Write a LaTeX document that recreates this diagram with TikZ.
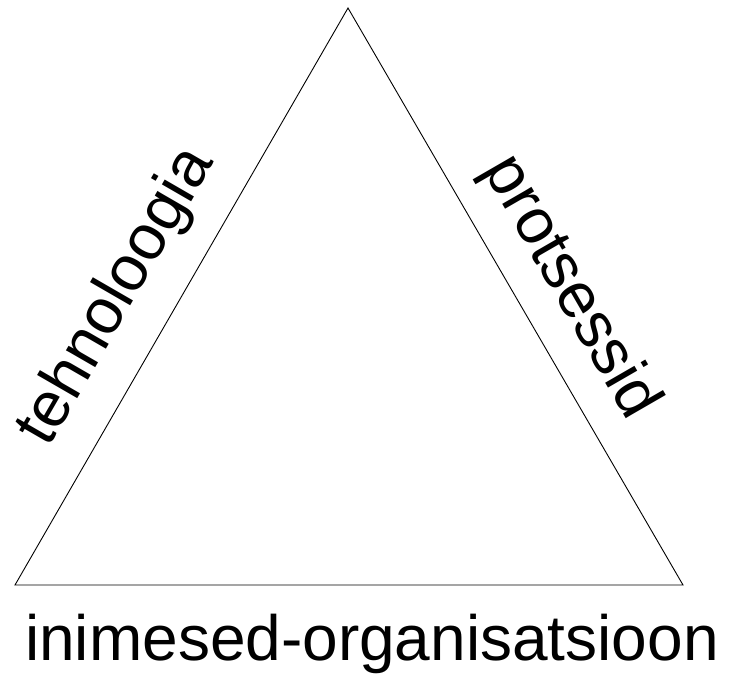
\documentclass[tikz,border=0pt]{standalone}
\usepackage{fontspec}
\setmainfont{Liberation Sans}
\begin{document}
\begin{tikzpicture}[x=1pt,y=-1pt,
  side/.style={font=\fontsize{64}{70}\selectfont, inner sep=0pt},
  edge/.style={draw=black, line width=0.9pt, line join=miter}]
  \useasboundingbox (0,0) rectangle (731,675);
  % corners of the triangle
  \coordinate (top) at (348,8);
  \coordinate (bl) at (15,585);
  \coordinate (br) at (683,585);
  \draw[edge] (top) -- (br) -- (bl) -- cycle;
  % labels along the sides
  \node[side, rotate=60] (tech) at (117,297) {tehnoloogia};
  \node[side, rotate=-60] (proc) at (570,288) {protsessid};
  \node[side, anchor=base] (people) at (372,660) {inimesed-organisatsioon};
\end{tikzpicture}
\end{document}
